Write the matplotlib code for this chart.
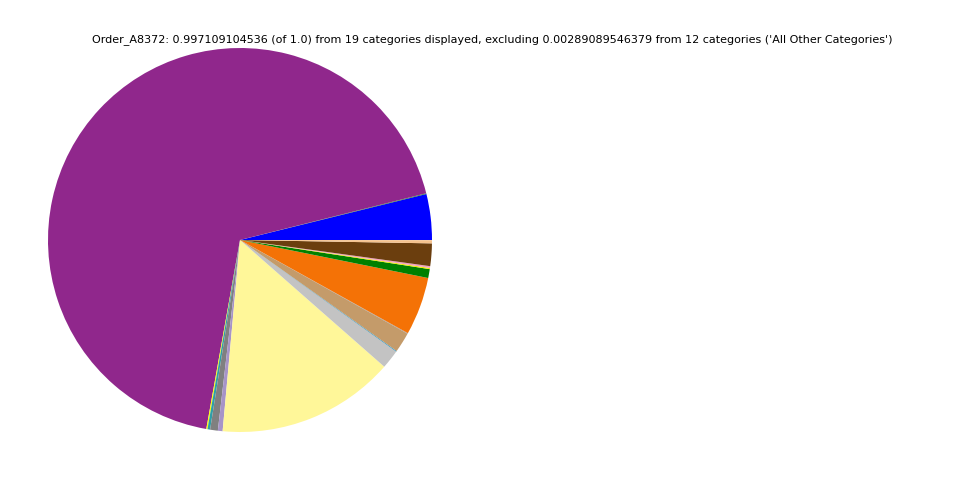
import matplotlib
matplotlib.use("Agg")
import matplotlib.pyplot as plt

categories = ["Cat_A", "Cat_B", "Cat_C", "Cat_D", "Cat_E", "Cat_F", "Cat_G", "Cat_H",
              "Cat_I", "Cat_J", "Cat_K", "Cat_L", "Cat_M", "Cat_N", "Cat_O", "Cat_P",
              "Cat_Q", "Cat_R", "Cat_S"]
values = [0.0386, 0.0006, 0.6840, 0.0010, 0.0022, 0.0065, 0.0040, 0.1500,
          0.0160, 0.0006, 0.0170, 0.0005, 0.0490, 0.0075, 0.0010, 0.0015,
          0.0190, 0.0025, 0.0003]
colors = ["#0000FF", "#228B22", "#90278C", "#FFFF00", "#2E9FA8", "#808080", "#A794C8", "#FFF799",
          "#C3C3C3", "#1E90C0", "#C49B6A", "#999999", "#F47206", "#008000", "#EEEE00", "#F4A0C0",
          "#6B3E0E", "#F5C28E", "#F0B880"]

title = "Order_A8372: 0.997109104536 (of 1.0) from 19 categories displayed, excluding 0.00289089546379 from 12 categories ('All Other Categories')"

fig = plt.figure(figsize=(9.6, 4.8), dpi=100)
ax = fig.add_axes([0.05, 0.1, 0.4, 0.8])
ax.pie(values, colors=colors, startangle=0, counterclock=True,
       wedgeprops=dict(linewidth=0))
ax.set_xlim(-1, 1)
ax.set_ylim(-1, 1)
ax.set_aspect("equal")
ax.axis("off")
fig.text(0.5125, 0.917, title, ha="center", va="center", fontsize=8)
fig.savefig("out.png", dpi=100)
